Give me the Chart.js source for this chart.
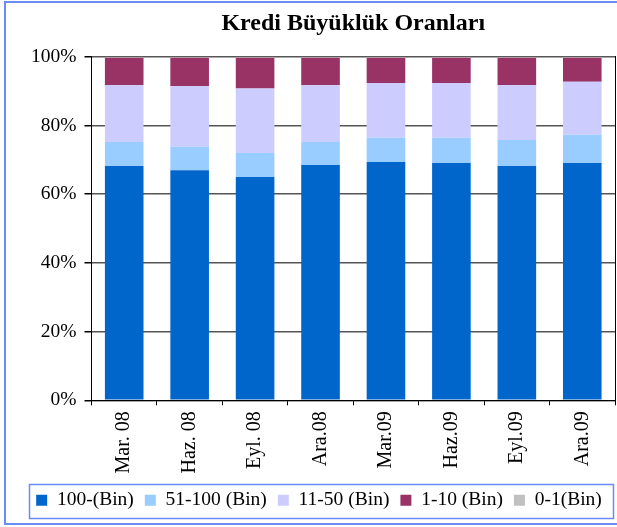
<!DOCTYPE html>
<html><head><meta charset="utf-8">
<script src="https://cdn.jsdelivr.net/npm/chart.js@4"></script>
<style>
html,body{margin:0;padding:0;background:#fff;overflow:hidden;}
#wrap{position:relative;width:617px;height:527px;overflow:hidden;}
#frame{position:absolute;left:4px;top:1px;width:700px;height:524px;border:2px solid #6a8cf4;box-sizing:border-box;}
canvas{position:absolute;left:0;top:0;}
</style></head>
<body>
<div id="wrap"><div id="frame"></div><canvas id="c" width="617" height="527"></canvas></div>
<script>
const categories = ['Mar. 08','Haz. 08','Eyl. 08','Ara.08','Mar.09','Haz.09','Eyl.09','Ara.09'];
const seriesNames = ['100-(Bin)','51-100 (Bin)','11-50 (Bin)','1-10 (Bin)','0-1(Bin)'];
const s100 = [68.2,67.0,65.0,68.5,69.4,69.1,68.2,69.1];
const s51  = [7.0,6.8,7.0,6.7,7.0,7.3,7.6,8.2];
const s11  = [16.6,17.7,18.8,16.6,16.0,16.0,16.0,15.4];
const s1   = [7.9,8.2,8.9,7.9,7.3,7.3,7.9,7.0];
const s0   = [0.3,0.3,0.3,0.3,0.3,0.3,0.3,0.3];
const yTicks = [0,20,40,60,80,100];
const colors = ['#0066cc','#99ccff','#ccccff','#993366','#c0c0c0'];

const FONT = '"Liberation Serif","Times New Roman",serif';
const seriesValues = [s100,s51,s11,s1,s0];

const legendFrame = {
  id:'legendFrame',
  afterDraw(chart){
    const lg = chart.legend;
    if(!lg || !lg.legendHitBoxes || !lg.legendHitBoxes.length) return;
    let l=Infinity,r=-Infinity,t=Infinity,b=-Infinity;
    lg.legendHitBoxes.forEach(h=>{l=Math.min(l,h.left);r=Math.max(r,h.left+h.width);t=Math.min(t,h.top);b=Math.max(b,h.top+h.height);});
    const ctx=chart.ctx;
    ctx.save();
    ctx.strokeStyle='#6a8cf4';
    ctx.lineWidth=1.5;
    ctx.strokeRect(Math.round(l-7)+0.5, Math.round(t-7)+0.5, Math.round(r-l+18), Math.round(b-t+14));
    ctx.restore();
  }
};

new Chart(document.getElementById('c'),{
  type:'bar',
  data:{
    labels:categories,
    datasets:seriesValues.map((v,i)=>({
      label:seriesNames[i],
      data:v,
      backgroundColor:colors[i],
      borderWidth:0,
      barPercentage:0.59,
      categoryPercentage:1.0
    }))
  },
  options:{
    responsive:false,
    animation:false,
    layout:{padding:{left:23,right:2,top:0,bottom:7}},
    plugins:{
      title:{display:true,text:'Kredi Büyüklük Oranları',fullSize:false,
        font:{family:FONT,size:24,weight:'bold'},color:'#000',padding:{top:9,bottom:19}},
      legend:{position:'bottom',
        labels:{font:{family:FONT,size:19.5},color:'#000',boxWidth:11,boxHeight:11,padding:11}},
      tooltip:{enabled:false}
    },
    scales:{
      x:{stacked:true,
        grid:{display:true,drawOnChartArea:false,offset:true,color:'#000',tickLength:5,lineWidth:1},
        border:{display:true,color:'#000',width:1},
        ticks:{font:{family:FONT,size:20},color:'#000',minRotation:90,maxRotation:90,padding:6,autoSkip:false}
      },
      y:{stacked:true,min:0,max:100,
        afterBuildTicks(axis){axis.ticks=yTicks.map(v=>({value:v}));},
        grid:{color:'#555',lineWidth:1.5,tickLength:7,tickColor:'#000'},
        border:{display:true,color:'#000',width:1},
        ticks:{font:{family:FONT,size:19.5},color:'#000',padding:8,callback:v=>v+'%'}
      },
      yRight:{position:'right',min:0,max:100,
        grid:{display:false,drawTicks:false},
        border:{display:true,color:'#000',width:1},
        ticks:{display:false}
      }
    }
  },
  plugins:[legendFrame]
});
</script>
</body></html>
